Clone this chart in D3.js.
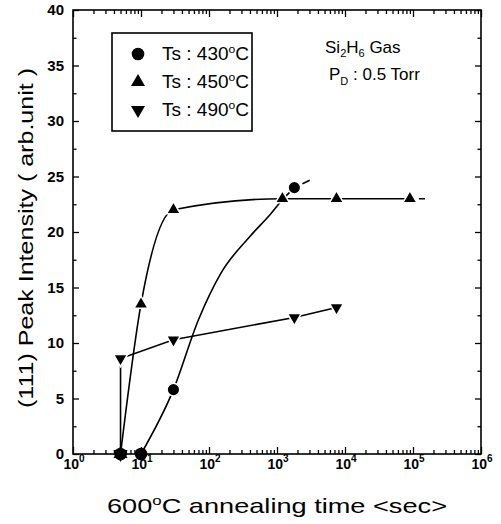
<!DOCTYPE html>
<html><head><meta charset="utf-8">
<script src="https://cdn.jsdelivr.net/npm/d3@7"></script>
<style>
body{margin:0;background:#fff}
svg{display:block}
text{font-family:"Liberation Sans",Arial,Helvetica,sans-serif;fill:#000}
</style>
</head><body>
<svg id="c" width="501" height="524"></svg>
<script>
// ---- data ----
const series430 = [[5,0],[10,0],[30,5.8],[1800,24]];
const series450 = [[5,0],[10,13.5],[30,22],[1200,23],[7500,23],[90000,23]];
const series490 = [[5,0],[5,8.6],[30,10.3],[1800,12.3],[7500,13.2]];
// fitted guide curves as drawn in the figure
const fit430 = [[10,0],[30,5.8],[70,12.1],[150,16.3],[400,19.6],[800,21.6],[1200,22.9],[1800,24]];
const fit450 = [[5,0],[10,13.5],[30,22],[1200,23],[7500,23],[90000,23]];
const fit490 = [[5,0],[5,8.6],[30,10.3],[1800,12.3],[7500,13.2]];
const ext430 = [[1800,24],[3400,24.8]];
const ext450 = [[90000,23],[150000,23]];
const legendTemps = ["430","450","490"];
const xDecades = [0,1,2,3,4,5,6];
const yTicks = [0,5,10,15,20,25,30,35,40];
const yMinor = [2.5,7.5,12.5,17.5,22.5,27.5,32.5,37.5];

const L=73,R=481,T=10,B=454;
const svg=d3.select("#c");
const x=d3.scaleLog().domain([1,1e6]).range([L,R]);
const y=d3.scaleLinear().domain([0,40]).range([B,T]);

const xMaj=xDecades.map(k=>Math.pow(10,k));
const xMin=[];
xDecades.slice(0,6).forEach(k=>{for(let m=2;m<=9;m++)xMin.push(m*Math.pow(10,k));});

function styleAxis(g){
  g.select(".domain").remove();
  g.selectAll(".tick line").attr("stroke","#000").attr("stroke-width",1.3);
}
// bottom & top
svg.append("g").attr("transform",`translate(0,${B})`).call(d3.axisBottom(x).tickValues(xMaj).tickSize(-7).tickFormat("")).call(styleAxis);
svg.append("g").attr("transform",`translate(0,${B})`).call(d3.axisBottom(x).tickValues(xMin).tickSize(-4).tickFormat("")).call(styleAxis);
svg.append("g").attr("transform",`translate(0,${T})`).call(d3.axisTop(x).tickValues(xMaj).tickSize(-7).tickFormat("")).call(styleAxis);
svg.append("g").attr("transform",`translate(0,${T})`).call(d3.axisTop(x).tickValues(xMin).tickSize(-4).tickFormat("")).call(styleAxis);
// left & right
const yl=svg.append("g").attr("transform",`translate(${L},0)`).call(d3.axisLeft(y).tickValues(yTicks).tickSize(-6).tickPadding(9)).call(styleAxis);
yl.selectAll(".tick text").attr("font-family","Liberation Sans, Arial, sans-serif").attr("font-size",15).attr("font-weight","bold").attr("fill","#000");
svg.append("g").attr("transform",`translate(${L},0)`).call(d3.axisLeft(y).tickValues(yMinor).tickSize(-3.5).tickFormat("")).call(styleAxis);
svg.append("g").attr("transform",`translate(${R},0)`).call(d3.axisRight(y).tickValues(yTicks).tickSize(-6).tickFormat("")).call(styleAxis);
svg.append("g").attr("transform",`translate(${R},0)`).call(d3.axisRight(y).tickValues(yMinor).tickSize(-3.5).tickFormat("")).call(styleAxis);

// frame
svg.append("rect").attr("x",L).attr("y",T).attr("width",R-L).attr("height",B-T)
  .attr("fill","none").attr("stroke","#000").attr("stroke-width",1.6);

// x tick labels 10^k
xDecades.forEach(k=>{
  const t=svg.append("text").attr("x",x(Math.pow(10,k))+1).attr("y",469)
    .attr("text-anchor","middle").attr("font-size",14).attr("font-weight","bold");
  t.append("tspan").text("10");
  t.append("tspan").attr("dy",-7).attr("font-size",10).text(k);
});

// curves
const lineMono=d3.line().x(d=>x(d[0])).y(d=>y(d[1])).curve(d3.curveMonotoneX);
const lineLin=d3.line().x(d=>x(d[0])).y(d=>y(d[1]));
svg.append("path").attr("d",lineMono(fit430)).attr("fill","none").attr("stroke","#000").attr("stroke-width",1.6);
svg.append("path").attr("d",lineMono(fit450)).attr("fill","none").attr("stroke","#000").attr("stroke-width",1.6);
svg.append("path").attr("d",lineLin(fit490)).attr("fill","none").attr("stroke","#000").attr("stroke-width",1.6);
svg.append("path").attr("d",lineLin(ext430)).attr("fill","none").attr("stroke","#000").attr("stroke-width",1.6).attr("stroke-dasharray","0,9,8,3");
svg.append("path").attr("d",lineLin(ext450)).attr("fill","none").attr("stroke","#000").attr("stroke-width",1.6).attr("stroke-dasharray","0,9,7,3");

// markers
const circ=d3.symbol().type(d3.symbolCircle).size(125);
const tri=d3.symbol().type(d3.symbolTriangle).size(85);
function marks(data,sym,rot){
  svg.append("g").selectAll("path").data(data).join("path")
    .attr("d",sym)
    .attr("transform",d=>`translate(${x(d[0])},${y(d[1])})`+(rot?" rotate(180)":""))
    .attr("fill","#000")
    .attr("stroke",d=>d[1]>0?"#fff":"none").attr("stroke-width",1.5);
}
marks(series490,tri,true);
marks(series450,tri,false);
marks(series430,circ,false);

// legend
svg.append("rect").attr("x",112).attr("y",33).attr("width",140).attr("height",98)
  .attr("fill","none").attr("stroke","#000").attr("stroke-width",1.6);
const legSyms=[[circ,false],[tri,false],[tri,true]];
legendTemps.forEach((tp,i)=>{
  const cy=54+i*28;
  svg.append("path").attr("d",legSyms[i][0]).attr("transform",`translate(138,${cy})`+(legSyms[i][1]?" rotate(180)":"")).attr("fill","#000");
  const t=svg.append("text").attr("x",162).attr("y",cy+6).attr("font-size",18)
    .attr("textLength",87).attr("lengthAdjust","spacingAndGlyphs");
  t.append("tspan").text("Ts : "+tp);
  t.append("tspan").attr("dy",-7).attr("font-size",11.5).text("o");
  t.append("tspan").attr("dy",7).text("C");
});

// annotation
const a1=svg.append("text").attr("x",325).attr("y",53).attr("font-size",17);
a1.append("tspan").text("Si");
a1.append("tspan").attr("dy",4).attr("font-size",11).text("2");
a1.append("tspan").attr("dy",-4).text("H");
a1.append("tspan").attr("dy",4).attr("font-size",11).text("6");
a1.append("tspan").attr("dy",-4).text(" Gas");
const a2=svg.append("text").attr("x",329).attr("y",80).attr("font-size",17);
a2.append("tspan").text("P");
a2.append("tspan").attr("dy",5).attr("font-size",11).text("D");
a2.append("tspan").attr("dy",-5).text(" : 0.5 Torr");

// axis titles
const xt=svg.append("text").attr("x",277).attr("y",513).attr("text-anchor","middle").attr("font-size",21)
  .attr("textLength",340).attr("lengthAdjust","spacingAndGlyphs");
xt.append("tspan").text("600");
xt.append("tspan").attr("dy",-8).attr("font-size",13).text("o");
xt.append("tspan").attr("dy",8).text("C annealing time <sec>");

svg.append("text").attr("transform","translate(33,238) rotate(-90)").attr("text-anchor","middle")
  .attr("font-size",21).attr("textLength",340).attr("lengthAdjust","spacingAndGlyphs")
  .text("(111) Peak Intensity ( arb.unit )");
</script>
</body></html>
